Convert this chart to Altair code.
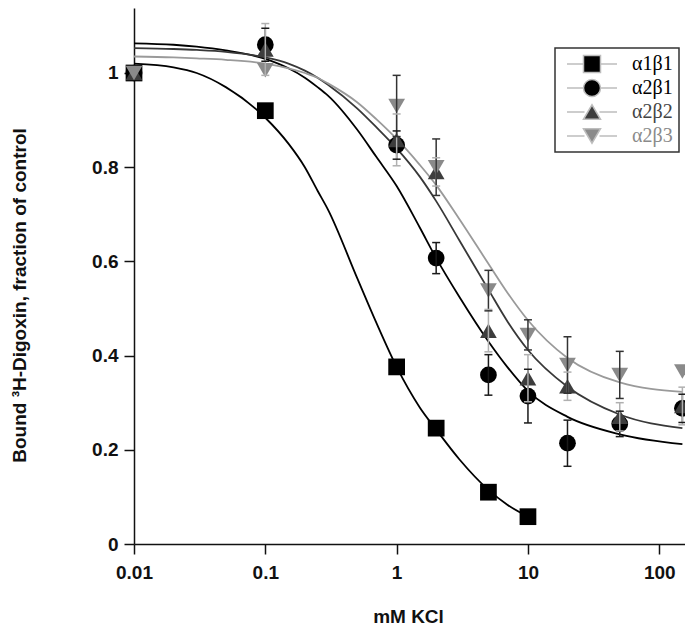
import altair as alt
import pandas as pd

# ---------------- data ----------------
series = ["α1β1", "α2β1", "α2β2", "α2β3"]
kcl = [0.01, 0.1, 1, 2, 5, 10, 20, 50, 150]

bound_a1b1 = [1.0, 0.92, 0.376, 0.246, 0.11, 0.058]
bound_a2b1 = [1.0, 1.06, 0.847, 0.607, 0.359, 0.314, 0.214, 0.255, 0.288]
bound_a2b2 = [1.0, 1.05, 0.858, 0.79, 0.453, 0.352, 0.335, 0.27, 0.293]
bound_a2b3 = [1.0, 1.006, 0.93, 0.80, 0.538, 0.444, 0.38, 0.359, 0.366]

err_a2b1 = [0, 0.035, 0.03, 0.033, 0.043, 0.057, 0.049, 0.027, 0.03]
err_a2b2 = [0, 0.055, 0.055, 0.03, 0.045, 0.05, 0.03, 0.03, 0.04]
err_a2b3 = [0, 0, 0.065, 0.06, 0.043, 0.032, 0.06, 0.05, 0]

curve_x = [0.01, 0.02, 0.03, 0.05, 0.1, 0.15, 0.2, 0.25, 0.3, 0.5, 0.7,
           1, 1.5, 2, 3, 5, 7, 10, 20, 50, 150]
fit_a1b1 = [1.02, 1.012, 1.0, 0.97, 0.905, 0.85, 0.80, 0.75, 0.71, 0.565, 0.47,
            0.376, 0.29, 0.243, 0.18, 0.115, 0.083, 0.058]
fit_a2b1 = [1.063, 1.06, 1.056, 1.048, 1.03, 1.01, 0.99, 0.97, 0.952, 0.88, 0.822,
            0.76, 0.672, 0.607, 0.525, 0.43, 0.375, 0.325, 0.27, 0.233, 0.212]
fit_a2b2 = [1.053, 1.051, 1.049, 1.045, 1.033, 1.02, 1.005, 0.99, 0.975, 0.925, 0.885,
            0.84, 0.78, 0.728, 0.645, 0.54, 0.472, 0.412, 0.334, 0.275, 0.246]
fit_a2b3 = [1.035, 1.033, 1.031, 1.028, 1.02, 1.01, 1.0, 0.99, 0.978, 0.938, 0.902,
            0.86, 0.805, 0.762, 0.69, 0.595, 0.533, 0.475, 0.395, 0.343, 0.323]

x_ticks = [0.01, 0.1, 1, 10, 100]
y_ticks = [0, 0.2, 0.4, 0.6, 0.8, 1]

# ---------------- styles ----------------
line_colors = ["#000000", "#000000", "#383838", "#9a9a9a"]
marker_colors = ["#000000", "#000000", "#3d3d3d", "#8a8a8a"]
err_colors = ["#000000", "#1a1a1a", "#b0b0b0", "#333333"]
legend_line_colors = ["#bdbdbd", "#bdbdbd", "#bdbdbd", "#bdbdbd"]
marker_shapes = ["square", "circle", "triangle-up", "triangle-down"]
legend_shapes = [
    "M-1,0H-0.34M0.34,0H1M-0.34,-0.34H0.34V0.34H-0.34Z",
    "M-1,0H-0.34M0.34,0H1M0.34,0A0.34,0.34,0,1,1,-0.34,0A0.34,0.34,0,1,1,0.34,0Z",
    "M-1,0H-0.3M0.3,0H1M-0.34,0.29L0,-0.29L0.34,0.29Z",
    "M-1,0H-0.3M0.3,0H1M-0.34,-0.29L0,0.29L0.34,-0.29Z",
]

# ---------------- tables ----------------
bounds = [bound_a1b1, bound_a2b1, bound_a2b2, bound_a2b3]
fits = [fit_a1b1, fit_a2b1, fit_a2b2, fit_a2b3]
errs = [[], err_a2b1, err_a2b2, err_a2b3]

pt_rows, curve_rows, err_rows = [], [], []
for si, name in enumerate(series):
    for i, v in enumerate(bounds[si]):
        pt_rows.append({"series": name, "x": kcl[i], "y": v, "idx": si})
    for i, v in enumerate(fits[si]):
        curve_rows.append({"series": name, "x": curve_x[i], "y": v})
    for i, e in enumerate(errs[si]):
        if e > 0:
            v = bounds[si][i]
            err_rows.append({"series": name, "x": kcl[i], "lo": v - e, "hi": v + e})

pt_df = pd.DataFrame(pt_rows)
curve_df = pd.DataFrame(curve_rows)
err_df = pd.DataFrame(err_rows)

# ---------------- scales / axes ----------------
xs = alt.Scale(type="log", domain=[0.01, 157], nice=False)
ys = alt.Scale(domain=[0, 1.138], nice=False, zero=False)

x_axis = alt.Axis(values=x_ticks, format="~g", title="mM KCl", tickSize=10,
                  labelPadding=9, labelFlush=False, labelOverlap=False,
                  titleX=274, titleY=72, titleBaseline="middle", titleAlign="center")
y_axis = alt.Axis(values=y_ticks, format=".1~f",
                  title="Bound ³H-Digoxin, fraction of control", tickSize=10,
                  labelPadding=6, labelOverlap=False,
                  titleX=-109, titleY=287, titleAngle=270,
                  titleBaseline="alphabetic", titleAlign="center")

X = alt.X("x:Q", scale=xs, axis=x_axis)
Y = alt.Y("y:Q", scale=ys, axis=y_axis)

lines = alt.Chart(curve_df).mark_line(interpolate="monotone", strokeWidth=1.8).encode(
    x=X, y=Y,
    stroke=alt.Stroke("series:N", scale=alt.Scale(domain=series, range=line_colors), legend=None),
    detail="series:N",
)

points = alt.Chart(pt_df).mark_point(filled=True, opacity=1, size=280, strokeWidth=0).encode(
    x=X, y=Y,
    fill=alt.Fill("series:N", scale=alt.Scale(domain=series, range=marker_colors), legend=None),
    shape=alt.Shape("series:N", scale=alt.Scale(domain=series, range=marker_shapes), legend=None),
    order="idx:Q",
)

err_color = alt.Color("series:N", scale=alt.Scale(domain=series, range=err_colors), legend=None)

rules = alt.Chart(err_df).mark_rule(strokeWidth=1.5).encode(
    x=X, y=alt.Y("lo:Q", scale=ys, axis=y_axis), y2="hi:Q", color=err_color,
)

caps = alt.Chart(err_df).transform_fold(["lo", "hi"], as_=["end", "yv"]).mark_tick(
    orient="horizontal", size=8, thickness=1.5, opacity=1
).encode(
    x=X, y=alt.Y("yv:Q", scale=ys, axis=y_axis), color=err_color,
)

legend = alt.Legend(
    title=None, orient="none", legendX=421, legendY=40, direction="vertical",
    padding=6, strokeColor="#333333", fillColor="white", clipHeight=20, rowPadding=4,
    symbolOffset=5, labelOffset=14, labelFont="Liberation Serif", labelFontSize=20,
    labelBaseline="middle", symbolSize=2500, symbolStrokeWidth=1.5, symbolOpacity=1,
    labelColor=alt.ExprRef(
        "datum.label == 'α2β3' ? '#8a8a8a' : (datum.label == 'α2β2' ? '#444444' : '#000000')"
    ),
)

leg = alt.Chart(pt_df).transform_filter("false").mark_point(
    filled=True, opacity=1, size=2500, strokeWidth=1.5
).encode(
    x=X, y=Y,
    fill=alt.Fill("series:N", scale=alt.Scale(domain=series, range=marker_colors), legend=legend),
    stroke=alt.Stroke("series:N", scale=alt.Scale(domain=series, range=legend_line_colors), legend=legend),
    shape=alt.Shape("series:N", scale=alt.Scale(domain=series, range=legend_shapes), legend=legend),
)

chart = alt.layer(lines, points, rules, caps, leg).resolve_scale(
    fill="independent", shape="independent", stroke="independent"
).properties(
    width=551, height=536,
    autosize=alt.AutoSizeParams(type="none"),
    padding={"left": 126, "top": 0, "right": 0, "bottom": 82},
).configure_view(stroke="transparent").configure_axis(
    domainColor="#111111", domainWidth=1.5, tickColor="#111111", tickWidth=1.5,
    labelFont="Liberation Sans", labelFontWeight="bold", labelFontSize=19, labelColor="#111111",
    titleFont="Liberation Sans", titleFontWeight="bold", titleFontSize=19, titleColor="#111111",
    grid=False,
).configure_legend(strokeWidth=1.5)

chart.save("out.html", embed_options={"renderer": "svg", "actions": False})
